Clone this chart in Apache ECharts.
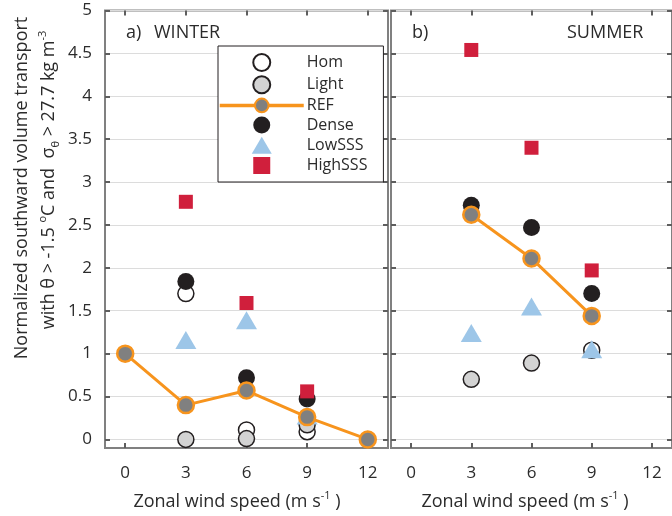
<!DOCTYPE html>
<html>
<head>
<meta charset="utf-8">
<script src="https://cdn.jsdelivr.net/npm/echarts@6/dist/echarts.min.js"></script>
<style>
  html, body { margin: 0; padding: 0; background: #ffffff; }
  #chart { width: 672px; height: 516px; }
</style>
</head>
<body>
<div id="chart"></div>
<script>
// Zonal wind speed (m/s) at which each experiment was run
const windSpeeds = [0, 3, 6, 9, 12];
const xTickValues = [0, 3, 6, 9, 12];
const yTickValues = [0, 0.5, 1, 1.5, 2, 2.5, 3, 3.5, 4, 4.5, 5];

// Normalized southward transport, winter runs (null = no marker shown)
const winterHom     = [null, 1.70, 0.11, 0.09, null];
const winterLight   = [null, 0.00, 0.01, 0.17, null];
const winterDense   = [null, 1.84, 0.72, 0.47, null];
const winterREF     = [1.00, 0.40, 0.57, 0.26, 0.00];
const winterLowSSS  = [null, 1.16, 1.39, 0.28, null];
const winterHighSSS = [null, 2.77, 1.59, 0.56, null];

// Normalized southward transport, summer runs
const summerHom     = [null, null, null, 1.04, null];
const summerLight   = [null, 0.70, 0.89, null, null];
const summerDense   = [null, 2.73, 2.47, 1.70, null];
const summerREF     = [null, 2.62, 2.11, 1.44, null];
const summerLowSSS  = [null, 1.24, 1.55, 1.05, null];
const summerHighSSS = [null, 4.54, 3.40, 1.97, null];

const legendOrder = ['Hom', 'Light', 'REF', 'Dense', 'LowSSS', 'HighSSS'];

const FONT = '"Open Sans", "Noto Sans", sans-serif';
const TEXT = '#2b2b2b';
const FRAME = '#808080';
const TICK = '#5e5e5e';
const ORANGE = '#F7941D';

// Path symbols keep their proportions inside the legend box
const TRIANGLE = 'path://M10,0L20,17L0,17Z';
const SQUARE = 'path://M0,0L10,0L10,10L0,10Z';

function pairs(values) {
  const out = [];
  values.forEach(function (v, i) { if (v !== null) out.push([windSpeeds[i], v]); });
  return out;
}

const markerStyles = {
  Hom:     { type: 'scatter', symbol: 'circle', symbolSize: 16,
             itemStyle: { color: '#ffffff', borderColor: '#231f20', borderWidth: 1.5, opacity: 1 } },
  Light:   { type: 'scatter', symbol: 'circle', symbolSize: 16,
             itemStyle: { color: '#d3d3d3', borderColor: '#231f20', borderWidth: 1.5, opacity: 1 } },
  Dense:   { type: 'scatter', symbol: 'circle', symbolSize: 17,
             itemStyle: { color: '#231f20', borderWidth: 0, opacity: 1 } },
  REF:     { type: 'line', symbol: 'circle', symbolSize: 16, showAllSymbol: true,
             lineStyle: { color: ORANGE, width: 3 },
             itemStyle: { color: '#808080', borderColor: ORANGE, borderWidth: 2.5, opacity: 1 } },
  LowSSS:  { type: 'scatter', symbol: TRIANGLE, symbolSize: [21, 18],
             itemStyle: { color: '#9dc6e8', borderWidth: 0, opacity: 1 } },
  HighSSS: { type: 'scatter', symbol: SQUARE, symbolSize: 14,
             itemStyle: { color: '#d01f3c', borderWidth: 0, opacity: 1 } }
};

const panels = [
  { Hom: winterHom, Light: winterLight, Dense: winterDense, REF: winterREF, LowSSS: winterLowSSS, HighSSS: winterHighSSS },
  { Hom: summerHom, Light: summerLight, Dense: summerDense, REF: summerREF, LowSSS: summerLowSSS, HighSSS: summerHighSSS }
];

// Drawing order: open/grey circles, dense, reference line, then triangles and squares on top
const drawOrder = ['Hom', 'Light', 'Dense', 'REF', 'LowSSS', 'HighSSS'];

const series = [];
panels.forEach(function (panel, p) {
  drawOrder.forEach(function (name) {
    const s = Object.assign({
      name: name,
      xAxisIndex: p * 2,
      yAxisIndex: p * 2,
      data: pairs(panel[name]),
      clip: false,
      animation: false,
      emphasis: { disabled: true }
    }, JSON.parse(JSON.stringify(markerStyles[name])));
    series.push(s);
  });
});

function xAxes(gridIndex) {
  const tick = { show: true, inside: true, length: 5, customValues: xTickValues,
                 lineStyle: { color: TICK, width: 2 } };
  return [
    { gridIndex: gridIndex, type: 'value', min: -1, max: 13, position: 'bottom',
      axisLine: { show: false, onZero: false }, axisTick: tick, splitLine: { show: false },
      axisLabel: { customValues: xTickValues, margin: 17, fontSize: 17, color: TEXT, fontFamily: FONT } },
    { gridIndex: gridIndex, type: 'value', min: -1, max: 13, position: 'top',
      axisLine: { show: false, onZero: false }, axisTick: tick, splitLine: { show: false },
      axisLabel: { show: false } }
  ];
}

function yAxes(gridIndex, showLabels) {
  const tick = { show: true, inside: true, length: 5, customValues: yTickValues,
                 lineStyle: { color: TICK, width: 2 } };
  return [
    { gridIndex: gridIndex, type: 'value', min: -0.1, max: 5, position: 'left',
      axisLine: { show: false, onZero: false }, axisTick: tick,
      splitLine: { show: true, lineStyle: { color: '#dcdcdc', width: 1 } },
      axisLabel: { show: showLabels, customValues: yTickValues, margin: 13, fontSize: 17,
                   color: TEXT, fontFamily: FONT } },
    { gridIndex: gridIndex, type: 'value', min: -0.1, max: 5, position: 'right',
      axisLine: { show: false, onZero: false }, axisTick: tick, splitLine: { show: false },
      axisLabel: { show: false } }
  ];
}

const supStyle = { fontSize: 11, fontFamily: FONT, fill: TEXT, color: TEXT, verticalAlign: 'top' };
const subStyle = { fontSize: 11, fontFamily: FONT, fill: TEXT, color: TEXT, verticalAlign: 'bottom' };
const baseStyle = { fontSize: 18, fontFamily: FONT, fill: TEXT, color: TEXT, lineHeight: 24 };

function richText(x, y, text, rotation) {
  return {
    type: 'text', x: x, y: y, rotation: rotation || 0, silent: true,
    style: {
      text: text, align: 'center', verticalAlign: 'middle',
      rich: { n: baseStyle, sup: supStyle, sub: subStyle }
    }
  };
}

function plainText(x, y, text) {
  return {
    type: 'text', x: x, y: y, silent: true,
    style: { text: text, fontSize: 18, fontFamily: FONT, fill: TEXT, align: 'left', verticalAlign: 'middle' }
  };
}

const option = {
  backgroundColor: '#ffffff',
  animation: false,
  grid: [
    { left: 105, top: 10.5, width: 283, height: 437.5, show: true,
      borderColor: FRAME, borderWidth: 2, backgroundColor: 'transparent' },
    { left: 391, top: 10.5, width: 285, height: 437.5, show: true,
      borderColor: FRAME, borderWidth: 2, backgroundColor: 'transparent' }
  ],
  xAxis: xAxes(0).concat(xAxes(1)),
  yAxis: yAxes(0, true).concat(yAxes(1, false)),
  legend: {
    data: legendOrder,
    orient: 'vertical',
    left: 218, top: 46,
    padding: [7, 16, 8, 0],
    itemWidth: 84, itemHeight: 17, itemGap: 3.2,
    symbolKeepAspect: true,
    lineStyle: { width: 3.5 },
    textStyle: { fontSize: 16, fontFamily: FONT, color: TEXT, padding: [0, 0, 0, -2] },
    borderColor: '#231f20', borderWidth: 1,
    backgroundColor: '#ffffff',
    selectedMode: false
  },
  graphic: [
    plainText(126, 33, 'a)'),
    plainText(154, 33, 'WINTER'),
    plainText(412, 33, 'b)'),
    plainText(567, 33, 'SUMMER'),
    richText(237, 502, '{n|Zonal wind speed (m s}{sup|-1}{n| )}'),
    richText(525, 502, '{n|Zonal wind speed (m s}{sup|-1}{n| )}'),
    richText(22, 188, '{n|Normalized southward volume transport}', Math.PI / 2),
    richText(49, 180, '{n|with θ > -1.5 }{sup|o}{n|C and  σ}{sub|θ}{n| > 27.7 kg m}{sup|-3}', Math.PI / 2)
  ],
  series: series
};

const chart = echarts.init(document.getElementById('chart'), null, { renderer: 'canvas' });
chart.setOption(option);
</script>
</body>
</html>
